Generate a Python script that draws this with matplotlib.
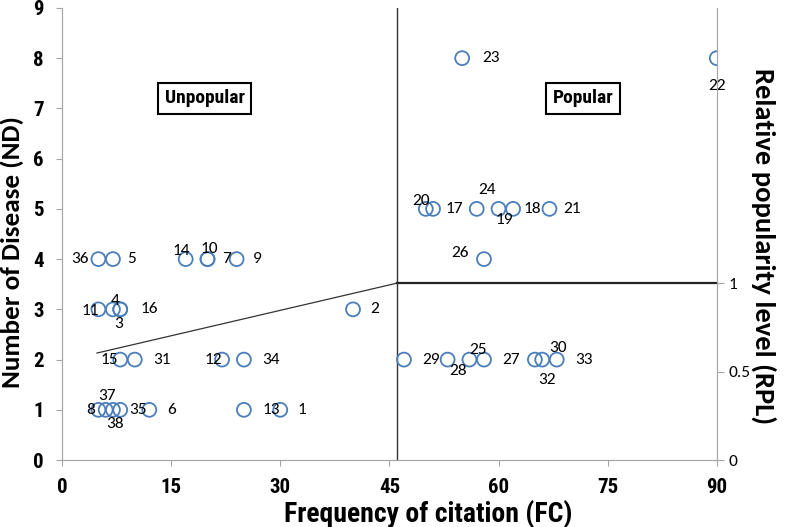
import matplotlib
matplotlib.use('Agg')
from matplotlib import pyplot as plt

# frequency of citation, number of diseases and species number for every point
fc = [30, 40, 8, 7, 7, 12, 20, 5, 24, 20, 5, 22, 25, 17, 8, 8,
      51, 62, 60, 50, 67, 90, 55, 57, 56, 58, 58, 53, 47, 66, 10, 65, 68, 25, 8, 5, 6, 7]
nd = [1, 3, 3, 3, 4, 1, 4, 1, 4, 4, 3, 2, 1, 4, 2, 3,
      5, 5, 5, 5, 5, 8, 8, 5, 2, 4, 2, 2, 2, 2, 2, 2, 2, 2, 1, 4, 1, 1]
labels = [str(i + 1) for i in range(len(fc))]

# relative popularity level ticks on the right axis
rpl_ticks = [0, 0.5, 1]
rpl_one_nd = 3.52   # ND value matching RPL = 1
fc_split = 46

# label offsets in pixels (dx, dy), screen y pointing down
offsets = {
    '1': (22, 0), '2': (22, 0), '3': (-2, 15), '4': (2, -8), '5': (19, 0),
    '6': (22, 0), '7': (19, 0), '8': (-8, 0), '9': (21, 0), '10': (2, -10),
    '11': (-8, 2), '12': (-9, 0), '13': (27, 0), '14': (-4, -8), '15': (-11, 0),
    '16': (29, 0), '17': (21, 0), '18': (19, 0), '19': (6, 11), '20': (-5, -8),
    '21': (23, 0), '22': (0, 28), '23': (29, 0), '24': (10, -19), '25': (9, -10),
    '26': (-24, -6), '27': (27, 0), '28': (10, 11), '29': (27, 0), '30': (16, -12),
    '31': (27, 0), '32': (12, 20), '33': (27, 0), '34': (27, 0), '35': (18, 0),
    '36': (-18, 0), '37': (1, -14), '38': (2, 14),
}

narrow = ['Roboto Condensed', 'PT Sans Narrow', 'DejaVu Sans']
body = ['Carlito', 'Lato', 'DejaVu Sans']
spine_col = '#a6a6a6'

fig = plt.figure(figsize=(7.87, 5.27), dpi=100)
ax = fig.add_axes([0.0788, 0.127, 0.832, 0.858])

ax.scatter(fc, nd, s=100, facecolors='none', edgecolors='#4a7ebb', linewidths=1.3, zorder=3)
for x, y, lab in zip(fc, nd, labels):
    dx, dy = offsets[lab]
    ax.annotate(lab, (x, y), xytext=(dx, -dy), textcoords='offset pixels',
                ha='center', va='center', fontsize=12.5, family=body, zorder=4)

# quadrant lines
ax.plot([fc_split, fc_split], [0, 9], color='#333333', lw=1.0)
ax.plot([fc_split, 90], [rpl_one_nd, rpl_one_nd], color='#222222', lw=1.6)
ax.plot([4.8, fc_split], [2.13, rpl_one_nd], color='#333333', lw=0.9)

box = dict(boxstyle='square,pad=0.35', fc='white', ec='black', lw=1.5)
ax.text(19.6, 7.2, 'Unpopular', ha='center', va='center', fontsize=14,
        fontweight='bold', family=narrow, bbox=box)
ax.text(71.6, 7.2, 'Popular', ha='center', va='center', fontsize=14,
        fontweight='bold', family=narrow, bbox=box)

ax.set_xlim(0, 90)
ax.set_ylim(0, 9)
ax.set_xticks(range(0, 91, 15))
ax.set_yticks(range(0, 10))
for lab in ax.get_xticklabels() + ax.get_yticklabels():
    lab.set_fontfamily(narrow)
    lab.set_fontweight('bold')
    lab.set_fontsize(15)
ax.tick_params(axis='x', length=4, color=spine_col, pad=9)
ax.tick_params(axis='y', length=4, color=spine_col, pad=9)
ax.spines['top'].set_visible(False)
for s in ['left', 'bottom', 'right']:
    ax.spines[s].set_color(spine_col)

ax.set_xlabel('Frequency of citation (FC)', fontsize=20, fontweight='bold',
              family=narrow, va='center')
ax.xaxis.set_label_coords(0.56, -0.12)
ax.set_ylabel('Number of Disease (ND)', fontsize=19.5, fontweight='bold',
              family=body, va='center', ha='center')
ax.yaxis.set_label_coords(-0.076, 0.46)

ax2 = ax.twinx()
ax2.set_ylim(0, 9 / rpl_one_nd)
ax2.set_yticks(rpl_ticks)
ax2.set_yticklabels(['0', '0.5', '1'], fontsize=12.5, family=body)
ax2.tick_params(length=5, color=spine_col)
ax2.spines['top'].set_visible(False)
for s in ['left', 'bottom', 'right']:
    ax2.spines[s].set_color(spine_col)
ax2.set_ylabel('Relative popularity level (RPL)', fontsize=20.5, fontweight='bold',
               family=body, rotation=270, va='center', ha='center')
ax2.yaxis.set_label_coords(1.071, 0.473)

plt.savefig('out.png', dpi=100)
plt.close()
